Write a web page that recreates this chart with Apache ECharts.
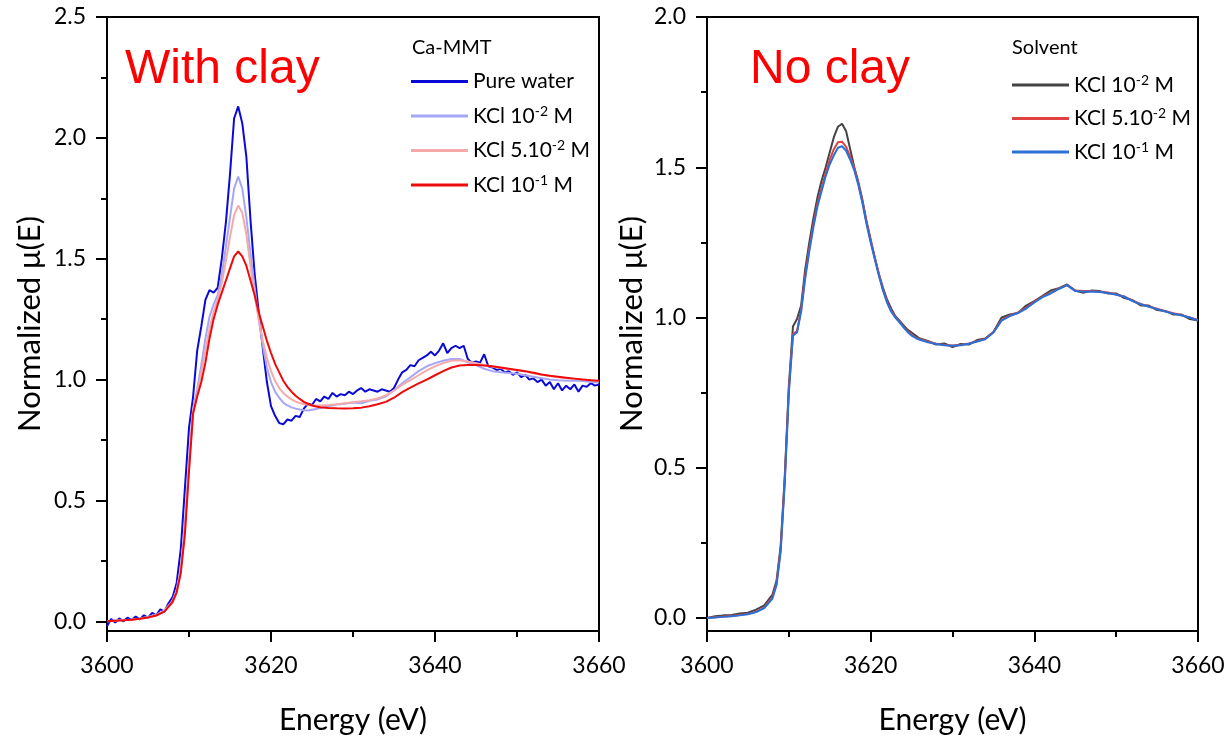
<!DOCTYPE html>
<html><head><meta charset="utf-8">
<script src="https://cdn.jsdelivr.net/npm/echarts@6/dist/echarts.min.js"></script>
<style>html,body{margin:0;padding:0;background:#fff}#c{width:1228px;height:736px}</style>
</head><body><div id="c"></div>
<script>
// ---------- LEFT PANEL (With clay, Ca-MMT) ----------
const energyFine = [3600,3600.5,3601,3601.5,3602,3602.5,3603,3603.5,3604,3604.5,3605,3605.5,3606,3606.5,3607,3607.5,3608,3608.5,3609,3609.5,
  3610,3610.5,3611,3611.5,3612,3612.5,3613,3613.5,3614,3614.5,3615,3615.5,3616,3616.5,3617,3617.5,3618,3618.5,3619,3619.5,
  3620,3620.5,3621,3621.5,3622,3622.5,3623,3623.5,3624,3624.5,3625,3625.5,3626,3626.5,3627,3627.5,3628,3628.5,3629,3629.5,
  3630,3630.5,3631,3631.5,3632,3632.5,3633,3633.5,3634,3634.5,3635,3635.5,3636,3636.5,3637,3637.5,3638,3638.5,3639,3639.5,
  3640,3640.5,3641,3641.5,3642,3642.5,3643,3643.5,3644,3644.5,3645,3645.5,3646,3646.5,3647,3647.5,3648,3648.5,3649,3649.5,
  3650,3650.5,3651,3651.5,3652,3652.5,3653,3653.5,3654,3654.5,3655,3655.5,3656,3656.5,3657,3657.5,3658,3658.5,3659,3659.5,3660];
const pureWater = [-0.02,0.01,-0.005,0.012,0.0,0.015,0.005,0.02,0.008,0.025,0.015,0.035,0.025,0.05,0.04,0.075,0.1,0.16,0.3,0.55,
  0.8,0.93,1.12,1.22,1.33,1.37,1.36,1.38,1.5,1.65,1.85,2.08,2.13,2.06,1.92,1.66,1.44,1.28,1.13,0.99,
  0.89,0.85,0.82,0.815,0.835,0.83,0.85,0.845,0.88,0.9,0.895,0.92,0.91,0.93,0.92,0.945,0.93,0.94,0.935,0.95,
  0.94,0.955,0.965,0.95,0.96,0.955,0.95,0.96,0.955,0.95,0.965,1.0,1.03,1.04,1.06,1.055,1.08,1.09,1.1,1.115,
  1.1,1.12,1.15,1.11,1.13,1.14,1.13,1.14,1.085,1.07,1.075,1.07,1.105,1.055,1.05,1.04,1.045,1.03,1.035,1.02,
  1.03,1.01,1.02,1.0,1.005,0.99,1.0,0.975,0.99,0.96,0.985,0.955,0.975,0.96,0.98,0.95,0.975,0.97,0.985,0.975,0.98];

const energyL = [3600,3601,3602,3603,3604,3605,3606,3607,3608,
  3608.5,3609,3609.5,3610,3610.5,3611,3611.5,3612,3612.5,3613,3613.5,3614,3614.5,3615,3615.5,3616,3616.5,3617,3617.5,3618,3618.5,
  3619,3619.5,3620,3620.5,3621,3621.5,3622,3622.5,3623,3623.5,3624,3624.5,3625,3625.5,3626,
  3627,3628,3629,3630,3631,3632,3633,3634,3635,3636,3637,3638,3639,3640,3641,3642,3643,3644,3645,3646,3647,3648,3649,3650,
  3651,3652,3653,3654,3655,3656,3657,3658,3659,3660];
const kcl2Clay = [0.0,0.003,0.005,0.008,0.012,0.018,0.027,0.045,0.085,
  0.13,0.22,0.4,0.66,0.88,0.96,1.06,1.17,1.26,1.31,1.35,1.43,1.55,1.67,1.79,1.84,1.79,1.67,1.52,1.38,1.25,
  1.14,1.05,0.99,0.95,0.925,0.905,0.893,0.885,0.88,0.876,0.873,0.872,0.875,0.878,0.882,
  0.89,0.897,0.9,0.905,0.902,0.912,0.918,0.93,0.955,0.985,1.01,1.035,1.055,1.068,1.078,1.085,1.085,1.072,1.06,1.045,1.035,1.03,1.027,1.024,
  1.018,1.012,1.006,1.0,0.997,0.995,0.996,0.994,0.99,0.988];
const kcl5Clay = [0.0,0.002,0.004,0.007,0.011,0.017,0.025,0.042,0.082,
  0.125,0.21,0.38,0.64,0.87,0.94,1.03,1.12,1.21,1.28,1.33,1.4,1.49,1.59,1.68,1.72,1.69,1.6,1.47,1.35,1.25,
  1.16,1.09,1.035,0.995,0.965,0.945,0.93,0.918,0.909,0.903,0.899,0.896,0.894,0.893,0.893,
  0.895,0.898,0.902,0.906,0.91,0.915,0.922,0.935,0.955,0.978,0.998,1.018,1.038,1.055,1.068,1.078,1.08,1.075,1.068,1.06,1.053,1.048,1.043,1.04,
  1.033,1.026,1.02,1.015,1.01,1.006,1.003,1.0,0.997,0.993];
const kcl1Clay = [0.0,0.002,0.004,0.007,0.011,0.016,0.024,0.04,0.08,
  0.12,0.2,0.36,0.62,0.86,0.93,0.99,1.07,1.17,1.25,1.31,1.36,1.41,1.46,1.51,1.53,1.51,1.47,1.41,1.35,1.28,
  1.22,1.16,1.11,1.065,1.03,0.995,0.97,0.95,0.933,0.92,0.908,0.9,0.893,0.889,0.886,
  0.883,0.881,0.88,0.881,0.884,0.89,0.898,0.908,0.925,0.948,0.967,0.984,1.0,1.018,1.035,1.05,1.058,1.06,1.06,1.058,1.055,1.05,1.045,1.04,
  1.035,1.028,1.021,1.016,1.012,1.008,1.004,1.0,0.997,0.995];

// ---------- RIGHT PANEL (No clay, solvent) ----------
const energyR = energyL.slice();
const kcl2Sol = [0.0,0.006,0.009,0.01,0.015,0.018,0.028,0.042,0.078,
  0.125,0.24,0.47,0.77,0.97,0.995,1.04,1.16,1.25,1.33,1.4,1.455,1.5,1.55,1.6,1.635,1.645,1.62,1.56,1.5,1.45,
  1.39,1.32,1.26,1.2,1.145,1.1,1.06,1.03,1.005,0.99,0.975,0.96,0.95,0.94,0.93,
  0.922,0.91,0.914,0.902,0.912,0.91,0.925,0.93,0.952,1.0,1.01,1.015,1.04,1.055,1.072,1.09,1.098,1.11,1.09,1.082,1.09,1.088,1.08,1.08,
  1.065,1.058,1.04,1.04,1.025,1.022,1.01,1.01,0.995,0.99];
const kcl5Sol = [0.0,0.003,0.005,0.007,0.01,0.014,0.021,0.035,0.07,
  0.115,0.23,0.46,0.76,0.945,0.955,1.025,1.14,1.23,1.31,1.38,1.43,1.48,1.525,1.56,1.583,1.585,1.568,1.535,1.497,1.446,
  1.386,1.316,1.256,1.2,1.145,1.094,1.053,1.023,1.003,0.987,0.97,0.955,0.942,0.934,0.928,
  0.92,0.913,0.909,0.907,0.909,0.914,0.921,0.93,0.952,0.992,1.006,1.017,1.032,1.052,1.07,1.082,1.097,1.108,1.09,1.088,1.088,1.086,1.083,1.077,
  1.07,1.056,1.045,1.037,1.029,1.021,1.014,1.008,1.0,0.992];
const kcl1Sol = [0.0,0.002,0.004,0.006,0.009,0.013,0.02,0.033,0.065,
  0.11,0.22,0.45,0.75,0.94,0.95,1.02,1.13,1.22,1.3,1.37,1.42,1.47,1.51,1.54,1.565,1.57,1.555,1.525,1.49,1.44,
  1.38,1.31,1.25,1.195,1.14,1.09,1.05,1.02,1.0,0.985,0.968,0.952,0.94,0.932,0.926,
  0.918,0.912,0.908,0.906,0.908,0.913,0.92,0.928,0.95,0.99,1.005,1.015,1.03,1.05,1.068,1.08,1.095,1.108,1.088,1.086,1.087,1.085,1.082,1.076,
  1.069,1.055,1.044,1.036,1.028,1.02,1.013,1.007,1.0,0.99];

const xTickLabels = [3600, 3620, 3640, 3660];
const yMajorLeft = [0, 0.5, 1.0, 1.5, 2.0, 2.5];
const yMinorLeft = [0.25, 0.75, 1.25, 1.75, 2.25];
const yMajorRight = [0, 0.5, 1.0, 1.5, 2.0];
const yMinorRight = [0.25, 0.75, 1.25, 1.75];

const FONT = 'Lato, "Open Sans", "DejaVu Sans", sans-serif';
const pair = (xs, ys) => xs.map((x, i) => [x, ys[i]]);

const legendRich = {
  n: { fontSize: 21, lineHeight: 24, fontFamily: FONT, color: '#000' },
  s: { fontSize: 14, lineHeight: 14, fontFamily: FONT, color: '#000', verticalAlign: 'top' }
};
const legendLabels = {
  'Pure water': '{n|Pure water}',
  'clay 10-2': '{n|KCl 10}{s|-2}{n| M}',
  'clay 5.10-2': '{n|KCl 5.10}{s|-2}{n| M}',
  'clay 10-1': '{n|KCl 10}{s|-1}{n| M}',
  'sol 10-2': '{n|KCl 10}{s|-2}{n| M}',
  'sol 5.10-2': '{n|KCl 5.10}{s|-2}{n| M}',
  'sol 10-1': '{n|KCl 10}{s|-1}{n| M}'
};

function xAxisFor(gi) {
  return {
    type: 'value', gridIndex: gi, min: 3600, max: 3660, interval: 20,
    axisLine: { show: true, onZero: false, lineStyle: { color: '#000', width: 2 } },
    axisTick: { show: true, length: 11, lineStyle: { color: '#000', width: 2 } },
    minorTick: { show: true, splitNumber: 2, length: 6, lineStyle: { color: '#000', width: 2 } },
    axisLabel: { color: '#000', fontSize: 23, fontFamily: FONT, margin: 23, formatter: v => xTickLabels.includes(v) ? String(v) : '' },
    splitLine: { show: false },
    name: 'Energy (eV)', nameLocation: 'middle', nameGap: 74,
    nameTextStyle: { color: '#000', fontSize: 30, fontFamily: FONT }
  };
}
function yMajor(gi, min, max, ticks, nameGap) {
  return {
    type: 'value', gridIndex: gi, min: min, max: max, position: 'left',
    axisLine: { show: true, onZero: false, lineStyle: { color: '#000', width: 2 } },
    axisTick: { show: true, length: 11, customValues: ticks, lineStyle: { color: '#000', width: 2 } },
    axisLabel: { color: '#000', fontSize: 23, fontFamily: FONT, margin: 21, customValues: ticks, formatter: v => v.toFixed(1) },
    splitLine: { show: false },
    name: 'Normalized μ(E)', nameLocation: 'middle', nameGap: nameGap,
    nameTextStyle: { color: '#000', fontSize: 31, fontFamily: FONT }
  };
}
function yMinor(gi, min, max, ticks) {
  return {
    type: 'value', gridIndex: gi, min: min, max: max, position: 'left',
    axisLine: { show: false },
    axisTick: { show: true, length: 6, customValues: ticks, lineStyle: { color: '#000', width: 2 } },
    axisLabel: { show: false },
    splitLine: { show: false }
  };
}
function line(name, xs, ys, color, xi, yi) {
  return {
    type: 'line', name: name, data: pair(xs, ys), xAxisIndex: xi, yAxisIndex: yi,
    showSymbol: false, symbol: 'none', lineStyle: { color: color, width: 2 }, itemStyle: { color: color },
    emphasis: { disabled: true }, z: 2
  };
}

const chart = echarts.init(document.getElementById('c'));
chart.setOption({
  animation: false,
  backgroundColor: '#fff',
  grid: [
    { left: 107, top: 17, width: 492, height: 614, show: true, borderColor: '#000', borderWidth: 2, outerBoundsMode: 'none', containLabel: false },
    { left: 707, top: 17, width: 491, height: 614, show: true, borderColor: '#000', borderWidth: 2, outerBoundsMode: 'none', containLabel: false }
  ],
  title: [
    { text: 'With clay', left: 125, top: 46, padding: 0, textStyle: { color: '#ff0000', fontSize: 48, fontWeight: 'normal', fontFamily: '"Liberation Sans", Arial, sans-serif' } },
    { text: 'No clay', left: 750, top: 46, padding: 0, textStyle: { color: '#ff0000', fontSize: 48, fontWeight: 'normal', fontFamily: '"Liberation Sans", Arial, sans-serif' } },
    { text: 'Ca-MMT', left: 412, top: 38, padding: 0, textStyle: { color: '#000', fontSize: 20, fontWeight: 'normal', fontFamily: FONT } },
    { text: 'Solvent', left: 1012, top: 38, padding: 0, textStyle: { color: '#000', fontSize: 20, fontWeight: 'normal', fontFamily: FONT } }
  ],
  legend: [
    { data: ['Pure water', 'clay 10-2', 'clay 5.10-2', 'clay 10-1'], orient: 'vertical', left: 411, top: 71, padding: 0,
      icon: 'rect', itemWidth: 57, itemHeight: 3, itemGap: 12, selectedMode: false,
      formatter: n => legendLabels[n], textStyle: { rich: legendRich, fontSize: 21, fontFamily: FONT } },
    { data: ['sol 10-2', 'sol 5.10-2', 'sol 10-1'], orient: 'vertical', left: 1012, top: 73, padding: 0,
      icon: 'rect', itemWidth: 57, itemHeight: 3, itemGap: 11, selectedMode: false,
      formatter: n => legendLabels[n], textStyle: { rich: legendRich, fontSize: 21, fontFamily: FONT } }
  ],
  xAxis: [xAxisFor(0), xAxisFor(1)],
  yAxis: [
    yMajor(0, -0.04, 2.5, yMajorLeft, 62),
    yMinor(0, -0.04, 2.5, yMinorLeft),
    yMajor(1, -0.043, 2.0, yMajorRight, 60),
    yMinor(1, -0.043, 2.0, yMinorRight)
  ],
  series: [
    line('Pure water', energyFine, pureWater, '#0a0ad6', 0, 0),
    line('clay 10-2', energyL, kcl2Clay, '#a6a6f6', 0, 0),
    line('clay 5.10-2', energyL, kcl5Clay, '#f4aaaa', 0, 0),
    line('clay 10-1', energyL, kcl1Clay, '#ee0a0a', 0, 0),
    line('sol 10-2', energyR, kcl2Sol, '#444444', 1, 2),
    line('sol 5.10-2', energyR, kcl5Sol, '#e04242', 1, 2),
    line('sol 10-1', energyR, kcl1Sol, '#2a70d6', 1, 2)
  ]
});
</script>
</body></html>
